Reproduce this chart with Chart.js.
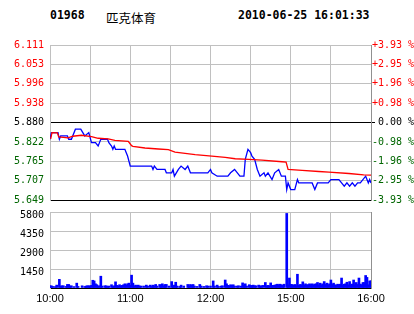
<!DOCTYPE html>
<html>
<head>
<meta charset="utf-8">
<script src="https://cdn.jsdelivr.net/npm/chart.js@4"></script>
<style>
  body { margin: 0; background: #fff; width: 414px; height: 314px; position: relative; overflow: hidden; }
  canvas { position: absolute; left: 0; }
  .hd { position: absolute; top: 8px; line-height: 16px; color: #000; white-space: pre; }
  .mono { font: bold 11.5px "DejaVu Sans Mono", monospace; }
  .cjk { font: 12.5px "Noto Sans CJK SC", sans-serif; }
</style>
</head>
<body>
<div class="hd mono" style="left:50px">01968</div>
<div class="hd cjk" style="left:106px">匹克体育</div>
<div class="hd mono" style="left:238px">2010-06-25 16:01:33</div>
<canvas id="priceChart" width="414" height="212" style="top:0"></canvas>
<canvas id="volChart" width="414" height="114" style="top:200px"></canvas>
<script>
// --- Données (minutes de séance depuis 10:00, 0..240) ---
const yTickValues = [6.111, 6.053, 5.996, 5.938, 5.880, 5.822, 5.765, 5.707, 5.649];
const yTickLabels = ["6.111", "6.053", "5.996", "5.938", "5.880", "5.822", "5.765", "5.707", "5.649"];
const pctLabels = ["+3.93 %", "+2.95 %", "+1.96 %", "+0.98 %", " 0.00 %", "-0.98 %", "-1.96 %", "-2.95 %", "-3.93 %"];
const prevClose = 5.880;

const xTickLabels = { 0: "10:00", 60: "11:00", 120: "12:00", 180: "15:00", 240: "16:00" };

const priceTimes = [0, 1, 6, 7, 8, 13, 14, 16, 19, 23, 26, 29, 31, 34, 36, 37, 38, 43, 44, 46, 47, 48, 49, 56, 57, 58, 60,
  76, 77, 78, 80, 86, 87, 91, 92, 93, 96, 98, 101, 103, 105, 118, 120, 121, 125, 133, 135, 138, 142, 145, 146, 148, 150,
  151, 153, 155, 157, 160, 161, 163, 166, 168, 171, 173, 176, 177, 178, 180, 183, 185, 186, 196, 197, 198, 200, 208, 210,
  216, 218, 220, 222, 224, 226, 228, 230, 232, 236, 237, 238, 239, 240];
const priceValues = [5.83, 5.85, 5.85, 5.83, 5.84, 5.84, 5.83, 5.83, 5.86, 5.86, 5.84, 5.85, 5.82, 5.82, 5.81, 5.82, 5.83, 5.83, 5.82, 5.81, 5.80, 5.81, 5.80, 5.80, 5.79, 5.78, 5.75,
  5.75, 5.74, 5.75, 5.74, 5.74, 5.73, 5.73, 5.74, 5.72, 5.74, 5.75, 5.74, 5.75, 5.73, 5.73, 5.74, 5.73, 5.72, 5.72, 5.73, 5.74, 5.72, 5.72, 5.77, 5.80, 5.79,
  5.78, 5.77, 5.74, 5.72, 5.73, 5.72, 5.73, 5.71, 5.73, 5.74, 5.72, 5.72, 5.68, 5.70, 5.68, 5.68, 5.71, 5.70, 5.70, 5.69, 5.68, 5.70, 5.70, 5.71,
  5.71, 5.70, 5.69, 5.70, 5.69, 5.70, 5.69, 5.70, 5.70, 5.72, 5.71, 5.70, 5.71, 5.70];

const avgTimes = [0.5, 1.5, 5.5, 6.5, 13.5, 17, 23.5, 31, 36, 43.5, 48.5, 58.5, 61, 62, 71, 81, 88.5, 93.5, 101, 108.5,
  121, 131, 138.5, 148.5, 158.5, 173.5, 176.5, 178, 188.5, 201, 208.5, 223.5, 234.5, 240];
const avgValues = [5.831, 5.850, 5.849, 5.837, 5.834, 5.839, 5.842, 5.838, 5.833, 5.831, 5.827, 5.824, 5.811, 5.809, 5.804, 5.801, 5.799, 5.792, 5.788, 5.784,
  5.780, 5.776, 5.772, 5.770, 5.768, 5.763, 5.762, 5.740, 5.737, 5.734, 5.732, 5.728, 5.724, 5.723];

const volTicks = [0, 1450, 2900, 4350, 5800];
const volTimes = [0, 1, 2, 4, 5, 7, 8, 9, 10, 12, 13, 14, 15, 16, 18, 20, 21, 24, 26, 27, 28, 29, 30, 31, 32, 33, 34, 35, 36, 37, 38, 39,
  41, 42, 43, 44, 46, 47, 48, 49, 50, 51, 52, 53, 54, 55, 56, 57, 58, 59, 60, 61, 62, 63, 64, 65, 66, 67, 68, 70, 72, 73, 75, 76,
  77, 78, 79, 80, 82, 83, 84, 85, 86, 87, 89, 91, 92, 93, 94, 95, 97, 98, 100, 103, 104, 105, 106, 107, 108, 110, 112, 113, 115,
  117, 118, 120, 122, 123, 125, 126, 128, 129, 131, 132, 133, 134, 135, 136, 137, 138, 140, 141, 143, 144, 145, 146, 147, 149,
  150, 151, 152, 153, 154, 156, 157, 158, 159, 161, 162, 163, 164, 165, 166, 167, 168, 169, 170, 171, 172, 173, 174, 175, 177,
  178, 179, 180, 181, 182, 183, 184, 185, 186, 187, 188, 189, 190, 191, 192, 193, 194, 195, 196, 197, 198, 199, 200, 201, 202,
  203, 204, 205, 206, 207, 208, 209, 210, 211, 212, 213, 214, 215, 216, 217, 218, 219, 220, 221, 222, 223, 224, 225, 226, 227,
  228, 229, 230, 231, 232, 233, 234, 235, 236, 237, 238, 239, 240];
const volValues = [170, 170, 120, 110, 220, 660, 150, 170, 170, 120, 270, 270, 150, 170, 110, 370, 120, 170, 120, 150, 170, 170, 150, 200, 590, 540, 320, 250, 150, 170, 900, 150,
  170, 170, 120, 150, 250, 120, 170, 470, 200, 150, 250, 150, 200, 250, 320, 220, 320, 370, 200, 980, 370, 150, 220, 170, 220, 150, 150, 150, 220, 150, 220, 120,
  220, 170, 270, 150, 270, 200, 320, 170, 270, 270, 150, 490, 150, 220, 440, 150, 120, 220, 150, 270, 150, 270, 200, 270, 150, 120, 270, 150, 120,
  170, 150, 150, 540, 150, 220, 120, 150, 170, 610, 320, 200, 170, 250, 200, 250, 150, 150, 170, 150, 390, 200, 320, 150, 250,
  200, 170, 220, 170, 170, 220, 170, 150, 200, 420, 170, 200, 170, 390, 200, 200, 220, 250, 290, 250, 290, 250, 200, 290, 5690,
  250, 760, 270, 270, 200, 270, 170, 1050, 200, 270, 250, 470, 200, 320, 250, 250, 320, 270, 320, 250, 300, 320, 420, 250, 370,
  250, 320, 490, 270, 370, 250, 320, 610, 270, 370, 250, 200, 290, 250, 290, 760, 200, 290, 320, 440, 250, 490, 250, 300, 610,
  250, 420, 270, 760, 300, 250, 420, 420, 955, 810, 250, 540, 540];

// --- Styles ---
const GRID = "#c0c0c0";
const RED = "#ff0000";
const GREEN = "#006600";
const monoFont = { family: "DejaVu Sans Mono", size: 10 };

function levelColor(i) {
  if (i < 4) return RED;
  if (i === 4) return "#000";
  return GREEN;
}

const toPoints = (xs, ys) => xs.map((x, i) => ({ x, y: ys[i] }));

// --- Graphique des prix ---
new Chart(document.getElementById("priceChart"), {
  type: "line",
  data: {
    datasets: [
      { data: toPoints(avgTimes, avgValues), borderColor: RED, borderWidth: 1.3, pointRadius: 0, tension: 0 },
      { data: toPoints(priceTimes, priceValues), borderColor: "#0000ff", borderWidth: 1.3, pointRadius: 0, tension: 0 },
    ],
  },
  options: {
    responsive: false,
    animation: false,
    events: [],
    layout: { padding: { top: 45, bottom: 9, left: 0, right: 0 } },
    plugins: { legend: { display: false }, tooltip: { enabled: false } },
    scales: {
      x: {
        type: "linear", min: 0, max: 240, offset: false,
        ticks: { display: false, stepSize: 30 },
        grid: { color: GRID, drawTicks: false, offset: false },
        border: { color: "#000" },
        afterFit: (s) => { s.height = 0; },
      },
      y: {
        position: "left", min: 5.649, max: 6.111,
        afterBuildTicks: (s) => { s.ticks = yTickValues.map((v) => ({ value: v })); },
        ticks: { font: monoFont, padding: 6, color: (c) => levelColor(c.index), callback: (v, i) => yTickLabels[i] },
        grid: { drawTicks: false, color: (c) => (c.tick && (c.tick.value === prevClose || c.tick.value === 5.649) ? "#000" : GRID) },
        border: { color: GRID },
        afterFit: (s) => { s.width = 50; },
      },
      y2: {
        position: "right", min: 5.649, max: 6.111,
        afterBuildTicks: (s) => { s.ticks = yTickValues.map((v) => ({ value: v })); },
        ticks: { font: monoFont, padding: -3, color: (c) => levelColor(c.index), callback: (v, i) => pctLabels[i] },
        grid: { drawOnChartArea: false, tickLength: 4, color: (c) => (c.tick && c.tick.value === prevClose ? "#000" : "rgba(0,0,0,0)") },
        border: { color: "#909090" },
        afterFit: (s) => { s.width = 43; },
      },
    },
  },
});

// --- Graphique des volumes ---
new Chart(document.getElementById("volChart"), {
  type: "bar",
  data: {
    datasets: [{ data: toPoints(volTimes, volValues), backgroundColor: "#0000ff", barThickness: 2, grouped: false }],
  },
  options: {
    responsive: false,
    animation: false,
    events: [],
    layout: { padding: { top: 9, bottom: 0, left: 0, right: 43 } },
    plugins: { legend: { display: false }, tooltip: { enabled: false } },
    scales: {
      x: {
        type: "linear", min: 0, max: 240, offset: false,
        ticks: {
          stepSize: 30, autoSkip: false, maxRotation: 0, padding: 4, color: "#000",
          font: { family: "Liberation Sans", size: 11 },
          callback: (v) => xTickLabels[v] || "",
        },
        grid: { color: GRID, drawTicks: false, offset: false },
        border: { color: "#000" },
        afterFit: (s) => { s.height = 26; },
      },
      y: {
        min: 0, max: 5800,
        afterBuildTicks: (s) => { s.ticks = volTicks.map((v) => ({ value: v })); },
        ticks: { font: monoFont, padding: 6, color: "#000", labelOffset: 3, callback: (v) => (v === 0 ? "" : String(v)) },
        grid: { drawTicks: false, color: (c) => (c.tick && c.tick.value === 0 ? "#000" : GRID) },
        border: { color: GRID },
        afterFit: (s) => { s.width = 50; },
      },
      y2: {
        position: "right", min: 0, max: 5800,
        ticks: { display: false },
        grid: { drawOnChartArea: false, drawTicks: false },
        border: { color: "#909090" },
        afterFit: (s) => { s.width = 0; },
      },
    },
  },
});
</script>
</body>
</html>
